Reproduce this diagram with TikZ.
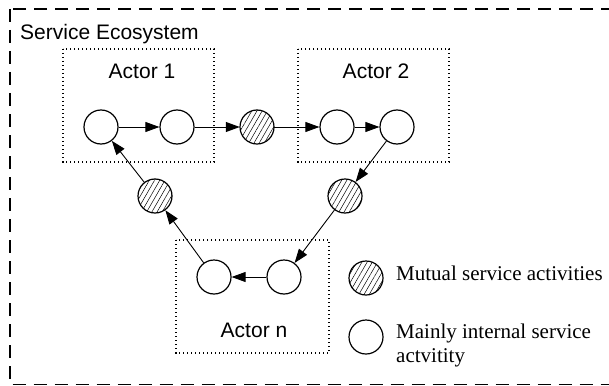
\documentclass[tikz,border=0pt]{standalone}
\usepackage{fontspec}
\setmainfont{Liberation Serif}
\setsansfont{Liberation Sans}
\usetikzlibrary{arrows.meta,patterns.meta}
\tikzset{
  act/.style={circle,draw,line width=1.2pt,minimum size=34pt,inner sep=0pt,fill=white},
  mutual/.style={act,pattern={Lines[angle=60,distance=4.5pt,line width=0.5pt]}},
  flow/.style={line width=0.9pt,-{Triangle[length=14pt,width=10pt]}},
  actorbox/.style={draw,line width=1.2pt,dash pattern=on 1.2pt off 2.8pt},
  sanslabel/.style={font=\sffamily\fontsize{21}{24}\selectfont,inner sep=0pt},
  seriflabel/.style={font=\fontsize{21}{24}\selectfont,inner sep=0pt,anchor=base west}
}
\begin{document}
\begin{tikzpicture}[x=1pt,y=-1pt]
\useasboundingbox (0,0) rectangle (609,385);
\clip (0,0) rectangle (609,385);
% ecosystem frame
\draw[line width=1.5pt,dash pattern=on 13pt off 8pt] (10,9) rectangle (640,384.5);
\node[sanslabel,anchor=base west] (eco) at (20,40) {Service Ecosystem};
% actor boxes
\draw[actorbox] (63,49) rectangle (214,162);
\draw[actorbox] (298,49) rectangle (449,162);
\draw[actorbox] (176,240) rectangle (329,353);
\node[sanslabel,anchor=base] (lab1) at (142,79) {Actor 1};
\node[sanslabel,anchor=base] (lab2) at (376,79) {Actor 2};
\node[sanslabel,anchor=base] (labn) at (254,337) {Actor n};
% activities
\node[act] (a1) at (101,127) {};
\node[act] (a2) at (177,127) {};
\node[mutual] (m12) at (257,127) {};
\node[act] (b1) at (337,127) {};
\node[act] (b2) at (397,127) {};
\node[mutual] (m2n) at (345,196) {};
\node[act] (n2) at (284,277) {};
\node[act] (n1) at (214,277) {};
\node[mutual] (mn1) at (155,196) {};
% flows
\draw[flow] (a1) -- (a2);
\draw[flow] (a2) -- (m12);
\draw[flow] (m12) -- (b1);
\draw[flow] (b1) -- (b2);
\draw[flow] (b2) -- (m2n);
\draw[flow] (m2n) -- (n2);
\draw[flow] (n2) -- (n1);
\draw[flow] (n1) -- (mn1);
\draw[flow] (mn1) -- (a1);
% legend
\node[mutual] (legm) at (366,278) {};
\node[act] (legi) at (366,337) {};
\node[seriflabel] (legmt) at (396,280) {Mutual service activities};
\node[seriflabel] (legit) at (396,338) {Mainly internal service};
\node[seriflabel] (legit2) at (396,362) {actvitity};
\end{tikzpicture}
\end{document}
